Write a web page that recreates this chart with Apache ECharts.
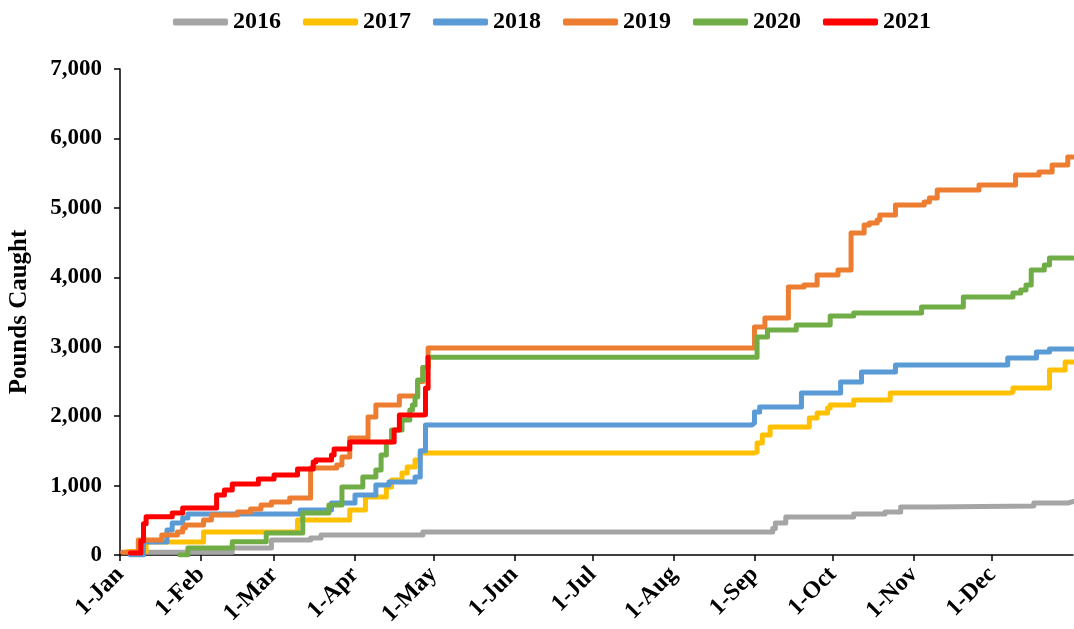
<!DOCTYPE html>
<html>
<head>
<meta charset="utf-8">
<script src="https://cdn.jsdelivr.net/npm/echarts@6/dist/echarts.min.js"></script>
<style>
  html, body { margin: 0; padding: 0; background: #fff; }
  #mainChart { width: 1074px; height: 629px; }
</style>
</head>
<body>
<div id="mainChart"></div>
<script>
// day of year (0 = 1-Jan) where the month labels go
var monthDays = [0, 31, 59, 90, 120, 151, 181, 212, 243, 273, 304, 334];
var monthLabels = ["1-Jan", "1-Feb", "1-Mar", "1-Apr", "1-May", "1-Jun", "1-Jul", "1-Aug", "1-Sep", "1-Oct", "1-Nov", "1-Dec"];
var yTicks = [0, 1000, 2000, 3000, 4000, 5000, 6000, 7000];

var years = ["2016", "2017", "2018", "2019", "2020", "2021"];
var colors = ["#A5A5A5", "#FFC000", "#5B9BD5", "#ED7D31", "#70AD47", "#FF0000"];

// cumulative pounds caught, [day of year, pounds]
var data2016 = [[4, 40], [43, 100], [58, 216], [73, 245], [77, 288], [116, 331],
  [250, 380], [251, 461], [255, 547], [281, 590], [293, 619], [299, 691], [311, 706], [350, 749], [363, 770], [365, 770]];
var data2017 = [[3, 50], [10, 187], [32, 331], [68, 504], [88, 648], [94, 835], [102, 979], [104, 1080], [108, 1181], [110, 1267], [113, 1368], [115, 1469],
  [243, 1483], [244, 1613], [246, 1728], [249, 1843], [264, 1973], [267, 2045], [271, 2117], [272, 2160], [281, 2232], [295, 2333], [341, 2347], [342, 2405], [356, 2664], [362, 2779], [365, 2779]];
var data2018 = [[4, 0], [9, 187], [18, 360], [20, 461], [24, 533], [26, 590], [69, 648], [81, 749], [90, 864], [98, 1008], [103, 1051], [113, 1123], [115, 1500], [117, 1872],
  [242, 1900], [243, 2059], [245, 2131], [261, 2333], [276, 2491], [284, 2635], [297, 2736], [340, 2837], [351, 2923], [356, 2966], [365, 2966]];
var data2019 = [[1, 40], [7, 216], [16, 288], [22, 330], [24, 389], [25, 432], [32, 504], [35, 576], [45, 619], [50, 662], [54, 720], [58, 763], [65, 821], [73, 1253], [83, 1296], [85, 1411], [88, 1685], [95, 1987], [98, 2160], [107, 2290], [114, 2500], [116, 2700], [118, 2980],
  [243, 3283], [247, 3413], [256, 3859], [262, 3888], [267, 4032], [275, 4104], [280, 4637], [285, 4752], [287, 4781], [290, 4824], [291, 4896], [297, 5040], [308, 5083], [310, 5141], [313, 5256], [329, 5328], [343, 5472], [352, 5515], [357, 5616], [363, 5731], [365, 5731]];
var data2020 = [[23, 0], [26, 100], [43, 190], [56, 317], [70, 605], [80, 720], [85, 979], [93, 1123], [98, 1224], [100, 1440], [102, 1627], [104, 1800], [108, 1944], [111, 2088], [112, 2160], [113, 2275], [114, 2520], [116, 2700], [118, 2850],
  [244, 3139], [248, 3240], [259, 3312], [272, 3442], [281, 3485], [307, 3571], [323, 3715], [342, 3773], [345, 3816], [347, 3888], [349, 4104], [354, 4176], [356, 4277], [365, 4277]];
var data2021 = [[4, 30], [8, 200], [9, 450], [10, 550], [20, 605], [24, 677], [37, 864], [40, 936], [43, 1022], [53, 1094], [59, 1152], [68, 1238], [74, 1339], [75, 1368], [81, 1440], [82, 1526], [88, 1627], [105, 1800], [107, 2016], [116, 2020], [117, 2400], [118, 2850]];

var seriesData = [data2016, data2017, data2018, data2019, data2020, data2021];

var fontFamily = "'Liberation Serif', 'Times New Roman', serif";

var chart = echarts.init(document.getElementById("mainChart"));

var series = years.map(function (y, i) {
  return {
    name: y,
    type: "line",
    step: "end",
    symbol: "none",
    data: seriesData[i],
    lineStyle: { color: colors[i], width: 5, cap: "round", join: "round" },
    itemStyle: { color: colors[i] },
    animation: false,
  };
});

var option = {
  backgroundColor: "#fff",
  legend: {
    data: years,
    top: 5,
    left: 168,
    icon: "roundRect",
    itemWidth: 55,
    itemHeight: 7,
    itemGap: 22,
    textStyle: { fontFamily: fontFamily, fontWeight: "bold", fontSize: 24, color: "#000" },
  },
  grid: {
    left: 120,
    right: 1,
    top: 69,
    bottom: 74,
    outerBoundsMode: "none",
    containLabel: false,
  },
  xAxis: {
    type: "value",
    min: 0,
    max: 365,
    splitLine: { show: false },
    axisLine: { lineStyle: { color: "#000", width: 1.5 } },
    axisTick: {
      customValues: monthDays,
      length: 6,
      lineStyle: { color: "#000", width: 1.5 },
    },
    axisLabel: {
      customValues: monthDays,
      rotate: 45,
      margin: 16,
      fontFamily: fontFamily,
      fontWeight: "bold",
      fontSize: 24,
      color: "#000",
      formatter: function (v) {
        var i = monthDays.indexOf(v);
        return i >= 0 ? monthLabels[i] : "";
      },
    },
  },
  yAxis: {
    type: "value",
    min: 0,
    max: 7000,
    interval: 1000,
    name: "Pounds Caught",
    nameLocation: "middle",
    nameGap: 88,
    nameTextStyle: { fontFamily: fontFamily, fontWeight: "bold", fontSize: 25, color: "#000" },
    splitLine: { show: false },
    axisLine: { show: true, lineStyle: { color: "#000", width: 1.5 } },
    axisTick: { show: true, length: 6, lineStyle: { color: "#000", width: 1.5 } },
    axisLabel: {
      margin: 18,
      fontFamily: fontFamily,
      fontWeight: "bold",
      fontSize: 23,
      color: "#000",
      formatter: function (v) {
        return yTicks.indexOf(v) >= 0 ? v.toLocaleString("en-US") : "";
      },
    },
  },
  series: series,
};
chart.setOption(option);
</script>
</body>
</html>
